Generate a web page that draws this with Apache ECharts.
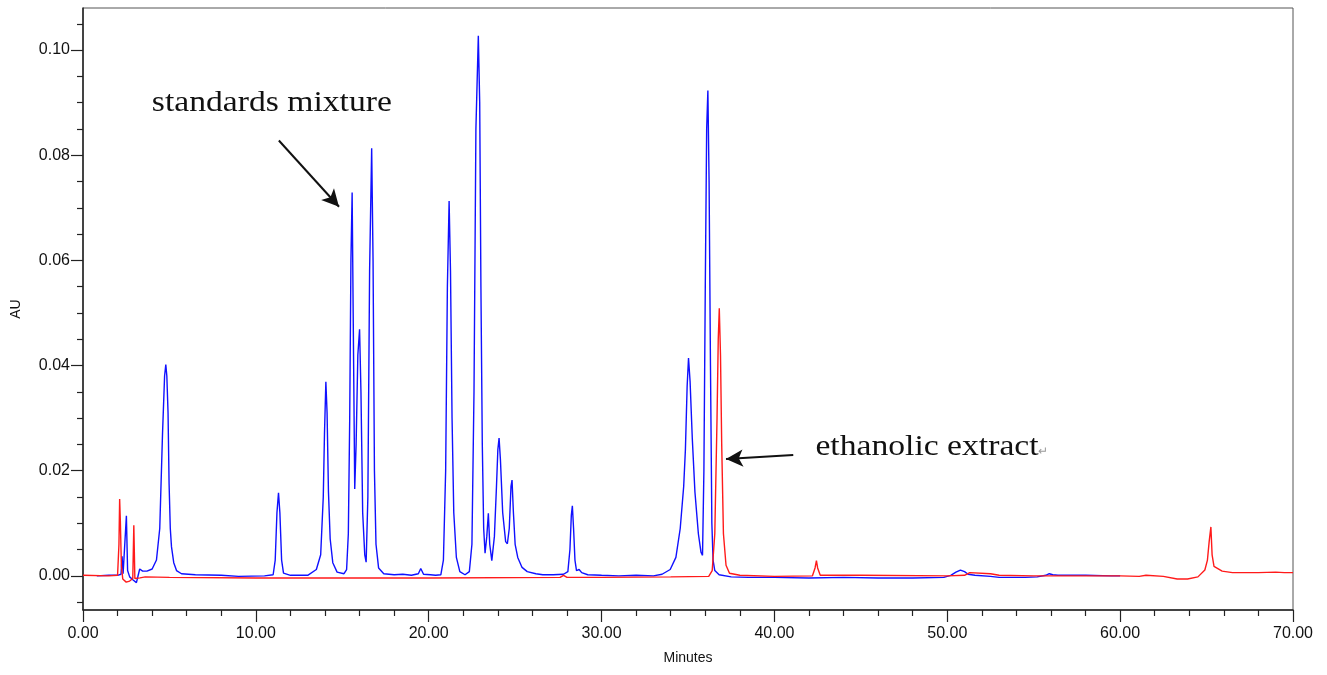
<!DOCTYPE html>
<html>
<head>
<meta charset="utf-8">
<script src="https://cdn.jsdelivr.net/npm/echarts@6/dist/echarts.min.js"></script>
<style>html,body{margin:0;padding:0;background:#fff;}#c{width:1327px;height:675px;}</style>
</head>
<body>
<div id="c"></div>
<script>
// Retention time (min), absorbance (AU)
const standardsMixture = [
[0.8,0],[1.5,0.0001],[2.0,0.0001],[2.2,0.0003],[2.26,0.0037],[2.32,0.0004],[2.42,0.0002],[2.51,0.0114],[2.58,0.001],[2.7,-0.0002],[2.9,-0.0008],[3.09,-0.0013],[3.2,0.0002],[3.28,0.0013],[3.45,0.0009],[3.7,0.0009],[4.0,0.0013],[4.25,0.003],[4.44,0.009],[4.6,0.027],[4.72,0.038],[4.79,0.0402],[4.85,0.038],[4.92,0.031],[4.98,0.0175],[5.05,0.009],[5.12,0.0055],[5.25,0.0025],[5.41,0.001],[5.7,0.0004],[6.5,0.0002],[8.0,0.0001],[9.0,-0.0001],[10.5,0],[11.0,0.0002],[11.12,0.003],[11.22,0.012],[11.31,0.0158],[11.39,0.012],[11.49,0.003],[11.6,0.0005],[12.0,0.0001],[13.0,0.0001],[13.5,0.0012],[13.75,0.004],[13.9,0.015],[13.97,0.027],[14.05,0.0369],[14.12,0.031],[14.2,0.016],[14.3,0.007],[14.45,0.0025],[14.7,0.0007],[15.1,0.0004],[15.25,0.0012],[15.35,0.008],[15.43,0.03],[15.5,0.06],[15.57,0.0729],[15.63,0.05],[15.72,0.0165],[15.8,0.025],[15.9,0.042],[16.0,0.0469],[16.08,0.035],[16.18,0.012],[16.3,0.004],[16.38,0.0026],[16.48,0.015],[16.58,0.058],[16.7,0.0813],[16.78,0.06],[16.86,0.02],[16.95,0.006],[17.1,0.0015],[17.4,0.0004],[18.0,0.0002],[18.5,0.0003],[19.0,0.0001],[19.4,0.0004],[19.54,0.0014],[19.7,0.0003],[20.1,0.0002],[20.4,0.0001],[20.7,0.0002],[20.85,0.003],[20.98,0.02],[21.08,0.055],[21.18,0.0713],[21.26,0.058],[21.35,0.03],[21.45,0.012],[21.6,0.0035],[21.8,0.0008],[22.1,0.0002],[22.35,0.0008],[22.5,0.006],[22.62,0.035],[22.73,0.085],[22.87,0.1027],[22.95,0.09],[23.02,0.055],[23.1,0.025],[23.18,0.009],[23.26,0.0043],[23.36,0.0075],[23.45,0.0119],[23.53,0.006],[23.65,0.0029],[23.8,0.0075],[23.92,0.017],[24.0,0.024],[24.07,0.0262],[24.15,0.022],[24.28,0.012],[24.45,0.0065],[24.55,0.0061],[24.66,0.009],[24.76,0.017],[24.82,0.0182],[24.9,0.012],[25.0,0.006],[25.15,0.0035],[25.4,0.0016],[25.7,0.0008],[26.2,0.0004],[26.6,0.0002],[27.2,0.0002],[27.8,0.0003],[28.05,0.0008],[28.17,0.005],[28.25,0.0115],[28.31,0.0133],[28.38,0.009],[28.46,0.003],[28.55,0.001],[28.7,0.0012],[28.85,0.0006],[29.2,0.0002],[30,0.0001],[31,0],[32,0.0001],[33,0],[33.5,0.0003],[33.97,0.0012],[34.3,0.0035],[34.55,0.009],[34.75,0.017],[34.85,0.024],[34.95,0.036],[35.03,0.0414],[35.12,0.037],[35.25,0.026],[35.4,0.016],[35.6,0.008],[35.75,0.0045],[35.84,0.0039],[35.92,0.02],[36.0,0.055],[36.08,0.085],[36.15,0.0923],[36.22,0.075],[36.3,0.04],[36.38,0.01],[36.45,0.003],[36.55,0.001],[36.8,0.0002],[37.5,-0.0002],[38.5,-0.0003],[40,-0.0003],[42,-0.0004],[44,-0.0003],[46,-0.0004],[48,-0.0004],[49.8,-0.0003],[50.2,0.0001],[50.5,0.0007],[50.76,0.0011],[51.0,0.0008],[51.2,0.0003],[51.6,0.0001],[52.5,-0.0001],[53,-0.0003],[54.5,-0.0003],[55.2,-0.0002],[55.7,0.0001],[55.9,0.0004],[56.1,0.0002],[56.4,0.0001],[58,0.0001],[59.5,0],[60,0]
];
const ethanolicExtract = [
[0,0.0001],[1.5,0],[2.0,0.0001],[2.08,0.006],[2.12,0.0146],[2.16,0.0105],[2.22,0.002],[2.3,-0.0006],[2.5,-0.0012],[2.7,-0.001],[2.88,-0.0005],[2.94,0.0096],[3.0,-0.0005],[3.1,-0.0008],[3.3,-0.0004],[3.6,-0.0002],[5,-0.0003],[10,-0.0004],[20,-0.0004],[27.6,-0.0003],[27.8,0.0001],[28.0,-0.0003],[30,-0.0003],[34,-0.0002],[36.2,-0.0001],[36.4,0.001],[36.55,0.008],[36.68,0.03],[36.75,0.045],[36.81,0.0509],[36.88,0.042],[36.95,0.025],[37.05,0.008],[37.2,0.002],[37.4,0.0005],[38,0.0001],[40,-0.0001],[42.2,0],[42.35,0.0015],[42.43,0.0029],[42.5,0.0015],[42.65,0.0001],[45,0.0001],[50,0],[51.0,0.0001],[51.3,0.0006],[52.5,0.0004],[53,0.0001],[55,0],[58,0],[60,0],[61.1,-0.0001],[61.5,0.0001],[62.5,-0.0001],[63.3,-0.0006],[63.9,-0.0006],[64.5,-0.0002],[64.9,0.0011],[65.05,0.003],[65.15,0.0065],[65.25,0.0093],[65.32,0.004],[65.43,0.0018],[65.9,0.0009],[66.5,0.0006],[68,0.0006],[69,0.0007],[69.5,0.0006],[70,0.0006]
];
const yLabelValues = [0, 0.02, 0.04, 0.06, 0.08, 0.10];
const yMinorValues = [-0.005, 0.005, 0.01, 0.015, 0.025, 0.03, 0.035, 0.045, 0.05, 0.055, 0.065, 0.07, 0.075, 0.085, 0.09, 0.095, 0.105];
// annotation anchors in data coordinates [min, AU]
const arrowStandards = [[11.33, 0.0828], [14.81, 0.0702]];
const arrowExtract = [[41.09, 0.0230], [37.2, 0.0222]];
const labelStandards = {text: 'standards mixture', at: [3.98, 0.0899]};
const labelExtract = {text: 'ethanolic extract', at: [42.37, 0.02436]};
const paraMark = {text: '\u21B5', at: [55.25, 0.0236]};

const chart = echarts.init(document.getElementById('c'));
const axisFont = {fontFamily: 'Liberation Sans, Arial, sans-serif', fontSize: 16, color: '#111'};
const option = {
  animation: false,
  backgroundColor: '#fff',
  grid: {left: 83, right: 34, top: 8, bottom: 65, show: true, borderColor: '#555', borderWidth: 1},
  xAxis: [{
    type: 'value', min: 0, max: 70, interval: 10,
    name: 'Minutes', nameLocation: 'middle', nameGap: 41,
    nameTextStyle: {fontFamily: 'Liberation Sans, Arial, sans-serif', fontSize: 14, color: '#111'},
    axisLine: {show: true, onZero: false, lineStyle: {color: '#222', width: 1.5}},
    axisTick: {show: true, length: 12, lineStyle: {color: '#222', width: 1.2}},
    minorTick: {show: true, splitNumber: 5, length: 6, lineStyle: {color: '#222', width: 1.2}},
    axisLabel: Object.assign({margin: 16, formatter: v => v.toFixed(2)}, axisFont),
    splitLine: {show: false}
  }],
  yAxis: [{
    type: 'value', min: -0.0065, max: 0.108,
    name: 'AU', nameLocation: 'middle', nameGap: 60, nameRotate: 90,
    nameTextStyle: {fontFamily: 'Liberation Sans, Arial, sans-serif', fontSize: 14, color: '#111'},
    axisLine: {show: true, onZero: false, lineStyle: {color: '#222', width: 1.5}},
    axisTick: {show: true, length: 12, customValues: yLabelValues, lineStyle: {color: '#222', width: 1.2}},
    axisLabel: Object.assign({margin: 13, customValues: yLabelValues, formatter: v => v.toFixed(2)}, axisFont),
    splitLine: {show: false}
  }, {
    type: 'value', min: -0.0065, max: 0.108, position: 'left',
    axisLine: {show: false, onZero: false},
    axisTick: {show: true, length: 6, customValues: yMinorValues, lineStyle: {color: '#222', width: 1.2}},
    axisLabel: {show: false},
    splitLine: {show: false}
  }],
  series: [{
    name: 'standards mixture', type: 'line', data: standardsMixture, showSymbol: false,
    lineStyle: {color: '#1010ff', width: 1.4}, z: 2, silent: true
  }, {
    name: 'ethanolic extract', type: 'line', data: ethanolicExtract, showSymbol: false,
    lineStyle: {color: '#ff1a1a', width: 1.4}, z: 3, silent: true,
    markLine: {
      silent: true, symbol: ['none', 'arrow'], symbolSize: [13, 17],
      label: {show: false},
      lineStyle: {color: '#111', width: 2, type: 'solid'},
      emphasis: {disabled: true},
      data: [
        [{coord: arrowStandards[0]}, {coord: arrowStandards[1]}],
        [{coord: arrowExtract[0]}, {coord: arrowExtract[1]}]
      ]
    }
  }]
};
chart.setOption(option);

function labelGraphic(lbl, size, color, sx) {
  const p = chart.convertToPixel({gridIndex: 0}, lbl.at);
  return {
    type: 'text', x: p[0], y: p[1], scaleX: sx, silent: true,
    style: {text: lbl.text, x: 0, y: 0, fill: color, align: 'left', verticalAlign: 'middle',
      font: size + 'px "Liberation Serif", "Times New Roman", serif'}
  };
}
chart.setOption({graphic: [
  labelGraphic(labelStandards, 29, '#111', 1.16),
  labelGraphic(labelExtract, 29, '#111', 1.16),
  labelGraphic(paraMark, 12, '#999', 1)
]});
</script>
</body>
</html>
